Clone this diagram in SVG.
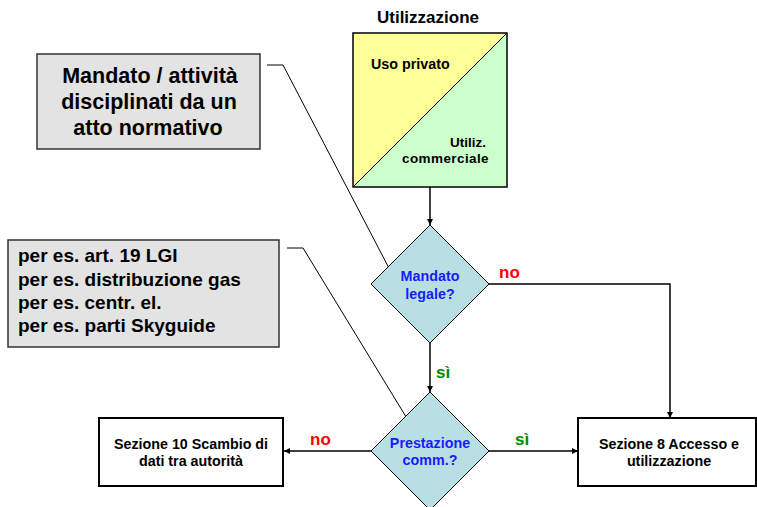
<svg xmlns="http://www.w3.org/2000/svg" width="757" height="507" viewBox="0 0 757 507">
<defs>
<marker id="arr" viewBox="0 0 10 10" refX="10" refY="5" markerWidth="6" markerHeight="6" orient="auto" markerUnits="userSpaceOnUse"><path d="M0,0 L10,5 L0,10 z" fill="#000"/></marker>
<style>
text{font-family:"Liberation Sans",Arial,sans-serif;font-weight:bold}
.t12{font-size:14.3px;fill:#000}
.dia{fill:#b8dfe4;stroke:#000;stroke-width:1}
.dt{font-size:14.3px;fill:#1a1aff}
.box{fill:#fff;stroke:#000;stroke-width:2}
.note{fill:#e3e3e3;stroke:#333;stroke-width:1.5}
.con{stroke:#000;stroke-width:1.5;fill:none}
.call{stroke:#000;stroke-width:1;fill:none}
.no{font-size:17px;fill:#ff0000}
.si{font-size:17px;fill:#008a00}
</style>
</defs>
<rect width="757" height="507" fill="#fff"/>

<g id="connectors">
<line class="con" x1="430" y1="187" x2="430" y2="225" marker-end="url(#arr)"/>
<polyline class="con" points="489,284 670,284 670,418" marker-end="url(#arr)"/>
<line class="con" x1="430" y1="343" x2="430" y2="392" marker-end="url(#arr)"/>
<line class="con" x1="488" y1="451" x2="578" y2="451" marker-end="url(#arr)"/>
<line class="con" x1="371" y1="451" x2="284" y2="451" marker-end="url(#arr)"/>
<polyline class="call" points="267,65 283,65 391,272"/>
<polyline class="call" points="287,248 303,248 411,425"/>
<text class="no" x="499" y="278">no</text>
<text class="si" x="436" y="378">sì</text>
<text class="si" x="515" y="445">sì</text>
<text class="no" x="310" y="445">no</text>
</g>

<g id="utilizzazione">
<text x="428" y="23" text-anchor="middle" style="font-size:17px">Utilizzazione</text>
<polygon points="353,33 507,33 353,187" fill="#ffff99"/>
<polygon points="507,33 507,187 353,187" fill="#ccffcc"/>
<rect x="353" y="33" width="154" height="154" fill="none" stroke="#000" stroke-width="1.5"/>
<line x1="353" y1="187" x2="507" y2="33" stroke="#000" stroke-width="1"/>
<text class="t12" x="371" y="69">Uso privato</text>
<text x="486" y="147" text-anchor="end" style="font-size:13.5px">Utiliz.</text>
<text x="489" y="163" text-anchor="end" style="font-size:13.5px;letter-spacing:0.4px">commerciale</text>
</g>

<g id="mandato-legale">
<polygon class="dia" points="430,225 489,284 430,343 371,284"/>
<text class="dt" x="430" y="281" text-anchor="middle">Mandato</text>
<text class="dt" x="430" y="299" text-anchor="middle">legale?</text>
</g>

<g id="prestazione">
<polygon class="dia" points="430,392 489,451 430,510 371,451"/>
<text class="dt" x="430" y="448" text-anchor="middle">Prestazione</text>
<text class="dt" x="430" y="465" text-anchor="middle">comm.?</text>
</g>

<g id="sezione8">
<rect class="box" x="578" y="418" width="178" height="68"/>
<text class="t12" x="669" y="449" text-anchor="middle">Sezione 8 Accesso e</text>
<text class="t12" x="669" y="466" text-anchor="middle">utilizzazione</text>
</g>

<g id="sezione10">
<rect class="box" x="99" y="418" width="184" height="68"/>
<text class="t12" x="191" y="449" text-anchor="middle">Sezione 10 Scambio di</text>
<text class="t12" x="191" y="466" text-anchor="middle">dati tra autorità</text>
</g>

<g id="note-mandato">
<rect class="note" x="37" y="54" width="223" height="95"/>
<text x="150" y="83" text-anchor="middle" style="font-size:21.5px">Mandato / attività</text>
<text x="149" y="109" text-anchor="middle" style="font-size:21.5px">disciplinati da un</text>
<text x="148" y="135" text-anchor="middle" style="font-size:21.5px">atto normativo</text>
</g>

<g id="note-esempi">
<rect class="note" x="8" y="240" width="271" height="107"/>
<text x="18" y="262" style="font-size:19px">per es. art. 19 LGI</text>
<text x="18" y="286" style="font-size:19px">per es. distribuzione gas</text>
<text x="18" y="309" style="font-size:19px">per es. centr. el.</text>
<text x="18" y="332" style="font-size:19px">per es. parti Skyguide</text>
</g>
</svg>
